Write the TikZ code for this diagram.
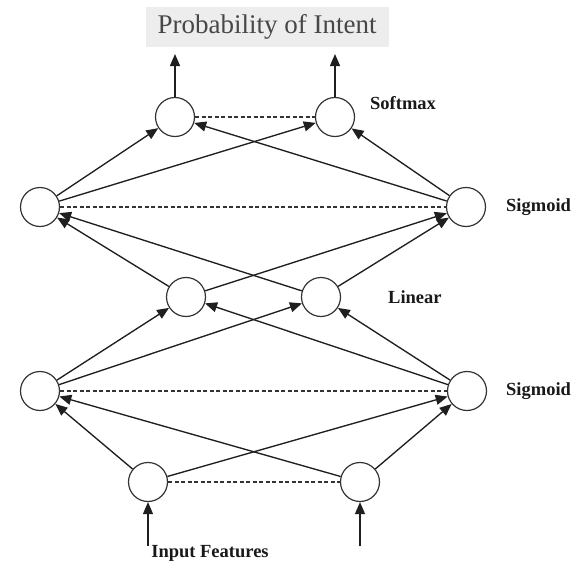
\documentclass[tikz,border=0pt]{standalone}
\usepackage{fontspec}
\setmainfont{Liberation Serif}
\usetikzlibrary{arrows.meta}
\begin{document}
\begin{tikzpicture}[x=1pt,y=-1pt,
  unit/.style={circle,draw=black!80,line width=1.2pt,minimum size=39pt,inner sep=0pt},
  link/.style={line width=1.35pt,draw=black!88,-{Triangle[length=12pt,width=10pt]}},
  lateral/.style={line width=1.2pt,draw=black!80,dash pattern=on 4pt off 2.5pt},
  layerfont/.style={font=\bfseries\fontsize{18.5}{20}\selectfont,text=black!90,inner sep=0pt},
  layername/.style={layerfont,anchor=west}]
\useasboundingbox (0,0) rectangle (571,570);

% title box
\node[fill=black!7,minimum width=243pt,minimum height=40pt,inner sep=0pt,
      text=black!72,font=\fontsize{27}{29}\selectfont] (title) at (267,27) {Probability of Intent};

% units, bottom to top
\node[unit] (in1) at (148,482) {};
\node[unit] (in2) at (360,482) {};
\node[unit] (sa1) at (40,391) {};
\node[unit] (sa2) at (467,391) {};
\node[unit] (li1) at (186,297) {};
\node[unit] (li2) at (321,297) {};
\node[unit] (sb1) at (40,207) {};
\node[unit] (sb2) at (466,207) {};
\node[unit] (so1) at (175,117) {};
\node[unit] (so2) at (335,117) {};

% layer names
\node[layername] (lsm) at (370,103) {Softmax};
\node[layername] (lsb) at (506,207) {Sigmoid};
\node[layername] (lli) at (388,297) {Linear};
\node[layername] (lsa) at (506,391) {Sigmoid};
\node[layerfont] (lin) at (210,553) {Input Features};

% inputs and outputs
\coordinate (x1) at (148,546);
\coordinate (x2) at (360,546);
\coordinate (y1) at (175,54);
\coordinate (y2) at (335,54);
\draw[link] (x1) -- (in1);
\draw[link] (x2) -- (in2);
\draw[link] (so1) -- (y1);
\draw[link] (so2) -- (y2);

% feed-forward connections
\foreach \a/\b in {in1/sa1,in1/sa2,in2/sa1,in2/sa2,
                   sa1/li1,sa1/li2,sa2/li1,sa2/li2,
                   li1/sb1,li1/sb2,li2/sb1,li2/sb2,
                   sb1/so1,sb1/so2,sb2/so1,sb2/so2}
  \draw[link] (\a) -- (\b);

% lateral connections within a layer
\draw[lateral] (in1) -- (in2);
\draw[lateral] (sa1) -- (sa2);
\draw[lateral] (sb1) -- (sb2);
\draw[lateral] (so1) -- (so2);
\end{tikzpicture}
\end{document}
